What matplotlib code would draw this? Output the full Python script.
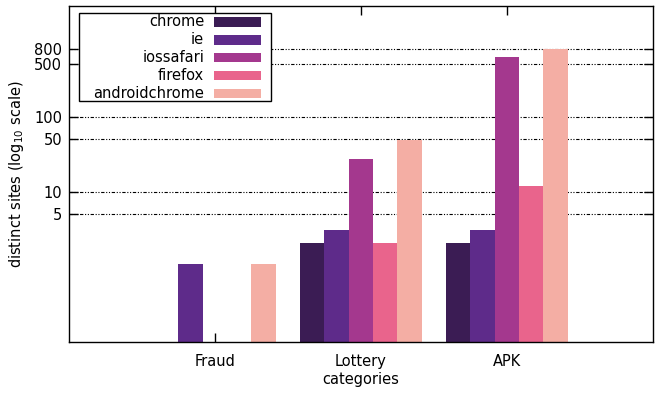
import numpy as np
import matplotlib
matplotlib.use("Agg")
import matplotlib.pyplot as plt
from matplotlib.patches import Rectangle
from matplotlib.ticker import FixedLocator, FixedFormatter, NullLocator

categories = ["Fraud", "Lottery", "APK"]
browsers = ["chrome", "ie", "iossafari", "firefox", "androidchrome"]
chrome = [0, 2, 2]
ie = [1, 3, 3]
iossafari = [0, 27, 630]
firefox = [0, 2, 12]
androidchrome = [1, 49, 800]
colors = ["#3b1c54", "#5e2b8a", "#a4388e", "#e9648c", "#f4aea4"]
yticks = [5, 10, 50, 100, 500, 800]

plt.rcParams["font.family"] = "DejaVu Sans"
plt.rcParams["font.size"] = 10.5

W, H = 660, 394
fig = plt.figure(figsize=(W / 100, H / 100), dpi=100)
ax = fig.add_axes([0.1045, 0.132, 0.8845, 0.853])
ax.set_yscale("log")

x = np.arange(len(categories))
w = 1 / 6
series = [chrome, ie, iossafari, firefox, androidchrome]
for i, (name, vals) in enumerate(zip(browsers, series)):
    v = np.array(vals, dtype=float)
    v[v <= 0] = np.nan
    ax.bar(x + (i - 2) * w, v, width=w, bottom=0.1, color=colors[i],
           label=name, linewidth=0, zorder=2)

ax.set_xlim(-1, 3)
ax.set_ylim(0.1, 3000)
ax.set_xticks(x)
ax.set_xticklabels(categories)
ax.yaxis.set_major_locator(FixedLocator(yticks))
ax.yaxis.set_major_formatter(FixedFormatter([str(t) for t in yticks]))
ax.yaxis.set_minor_locator(NullLocator())
ax.tick_params(direction="in", length=6.5, width=1, top=True, right=True, pad=5)
ax.tick_params(axis="x", pad=9)
ax.grid(axis="y", color="black", linewidth=0.8, dashes=(3, 1.5, 1, 1.5, 1, 1.5), zorder=1)
ax.set_axisbelow(True)
for s in ax.spines.values():
    s.set_linewidth(1.0)

ax.set_ylabel("distinct sites (log$_{10}$ scale)", labelpad=6)
ax.set_xlabel("categories", labelpad=2)

# gnuplot-style key: right-aligned labels, swatch on the right
def px(xp, yp):
    return xp / W, 1 - yp / H

bx0, by0 = px(79, 101)
bx1, by1 = px(271, 13)
fig.patches.append(Rectangle((bx0, by0), bx1 - bx0, by1 - by0, transform=fig.transFigure,
                             facecolor="white", edgecolor="black", linewidth=1.0, zorder=5))
row_y = [22, 40, 57.5, 75, 93]
for name, c, ry in zip(browsers, colors, row_y):
    tx, ty = px(204, ry)
    fig.text(tx, ty, name, ha="right", va="center", zorder=6)
    sx, sy = px(214, ry + 4.5)
    fig.patches.append(Rectangle((sx, sy), 47 / W, 9 / H, transform=fig.transFigure,
                                 facecolor=c, edgecolor="none", zorder=6))

fig.savefig("out.png", dpi=100)
